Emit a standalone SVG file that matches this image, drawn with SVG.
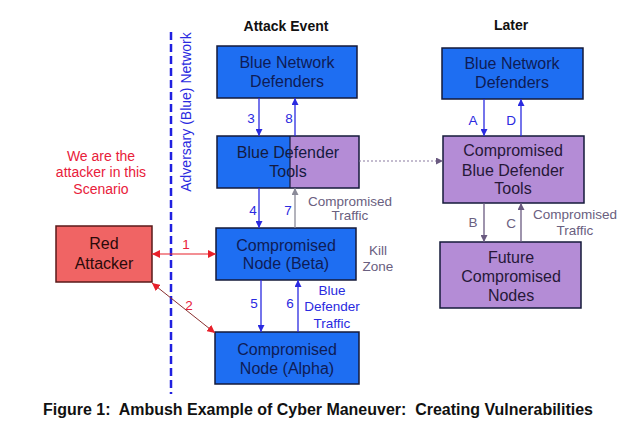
<svg xmlns="http://www.w3.org/2000/svg" width="639" height="424" viewBox="0 0 639 424">
<defs>
<style>
text{font-family:"Liberation Sans",Arial,sans-serif}
.box{stroke:#141a3a;stroke-width:1.5}
.blue{fill:#1e6ef2}
.purple{fill:#b48cd6}
.red{fill:#f06464;stroke:#5a1a1a}
.bt{font-size:16px;fill:#0e1c56;text-anchor:middle}
.pt{font-size:16px;fill:#261838;text-anchor:middle}
.title{font-size:14px;font-weight:bold;fill:#111;text-anchor:middle}
.lbl{font-size:13.5px;text-anchor:middle}
.lb{fill:#2a2ae0}
.lg{fill:#6a6080}
.lr{fill:#e8203a}
.cb{stroke:#2a2ae0;stroke-width:1.3;fill:none}
.cg{stroke:#8a8a98;stroke-width:1.3;fill:none}
.cp{stroke:#6a5a80;stroke-width:1.3;fill:none}
</style>
<marker id="mb" viewBox="0 0 10 10" refX="10" refY="5" markerWidth="7" markerHeight="7" markerUnits="userSpaceOnUse" orient="auto"><path d="M0,0 L10,5 L0,10 z" fill="#2a2ae0"/></marker>
<marker id="mg" viewBox="0 0 10 10" refX="10" refY="5" markerWidth="7" markerHeight="7" markerUnits="userSpaceOnUse" orient="auto"><path d="M0,0 L10,5 L0,10 z" fill="#8a8a98"/></marker>
<marker id="mp" viewBox="0 0 10 10" refX="10" refY="5" markerWidth="7" markerHeight="7" markerUnits="userSpaceOnUse" orient="auto"><path d="M0,0 L10,5 L0,10 z" fill="#6a5a80"/></marker>
<marker id="mr" viewBox="0 0 10 10" refX="10" refY="5" markerWidth="8" markerHeight="8" markerUnits="userSpaceOnUse" orient="auto-start-reverse"><path d="M0,0 L10,5 L0,10 z" fill="#e8202a"/></marker>
</defs>
<rect width="639" height="424" fill="#fff"/>

<text class="title" x="286" y="31">Attack Event</text>
<text class="title" x="511" y="30">Later</text>

<line x1="171" y1="32" x2="171" y2="394" stroke="#2020e0" stroke-width="2.5" stroke-dasharray="8,4"/>
<text x="0" y="0" transform="translate(191,112) rotate(-90)" font-size="14" fill="#2a2ae0" text-anchor="middle">Adversary (Blue) Network</text>

<g id="note">
<text class="lr" x="101" y="161" font-size="14" text-anchor="middle">We are the</text>
<text class="lr" x="101" y="177" font-size="14" text-anchor="middle">attacker in this</text>
<text class="lr" x="101" y="194" font-size="14" text-anchor="middle">Scenario</text>
</g>

<g id="red-attacker">
<rect class="box red" x="56" y="226" width="96" height="56"/>
<text class="bt" x="104" y="249" style="fill:#2a0a0a">Red</text>
<text class="bt" x="104" y="269" style="fill:#2a0a0a">Attacker</text>
</g>

<g id="blue-network-defenders">
<rect class="box blue" x="217" y="46" width="140" height="52"/>
<text class="bt" x="287" y="68">Blue Network</text>
<text class="bt" x="287" y="87">Defenders</text>
</g>

<g id="blue-defender-tools">
<rect class="blue" x="217" y="136" width="73" height="52"/>
<rect class="purple" x="290" y="136" width="69" height="52"/>
<line x1="290" y1="136" x2="290" y2="188" stroke="#141a3a" stroke-width="1.2"/>
<rect x="217" y="136" width="142" height="52" fill="none" stroke="#141a3a" stroke-width="1.5"/>
<text class="bt" x="288" y="158" style="fill:#141a40">Blue Defender</text>
<text class="bt" x="288" y="177" style="fill:#141a40">Tools</text>
</g>

<g id="node-beta">
<rect class="box blue" x="216" y="228" width="140" height="52"/>
<text class="bt" x="286" y="251">Compromised</text>
<text class="bt" x="286" y="269">Node (Beta)</text>
</g>

<g id="node-alpha">
<rect class="box blue" x="215" y="332" width="144" height="52"/>
<text class="bt" x="287" y="355">Compromised</text>
<text class="bt" x="287" y="374">Node (Alpha)</text>
</g>

<g id="later-blue-network-defenders">
<rect class="box blue" x="442" y="48" width="141" height="51"/>
<text class="bt" x="512" y="69">Blue Network</text>
<text class="bt" x="512" y="88">Defenders</text>
</g>

<g id="compromised-blue-defender-tools">
<rect class="box purple" x="443" y="136" width="141" height="67"/>
<text class="pt" x="513" y="156">Compromised</text>
<text class="pt" x="513" y="176">Blue Defender</text>
<text class="pt" x="513" y="194">Tools</text>
</g>

<g id="future-compromised-nodes">
<rect class="box purple" x="440" y="242" width="141" height="66"/>
<text class="pt" x="511" y="263">Future</text>
<text class="pt" x="511" y="282">Compromised</text>
<text class="pt" x="511" y="301">Nodes</text>
</g>

<g id="connectors">
<line class="cb" x1="259" y1="98" x2="259" y2="136" marker-end="url(#mb)"/>
<line class="cb" x1="295" y1="136" x2="295" y2="98" marker-end="url(#mb)"/>
<line class="cb" x1="259" y1="188" x2="259" y2="228" marker-end="url(#mb)"/>
<line class="cg" x1="295" y1="228" x2="295" y2="188" marker-end="url(#mg)"/>
<line class="cb" x1="261" y1="280" x2="261" y2="332" marker-end="url(#mb)"/>
<line class="cb" x1="298" y1="332" x2="298" y2="280" marker-end="url(#mb)"/>
<line x1="152" y1="254" x2="216" y2="254" stroke="#e8202a" stroke-width="1.2" marker-start="url(#mr)" marker-end="url(#mr)"/>
<line x1="152" y1="283" x2="215" y2="333" stroke="#8a3030" stroke-width="1" marker-start="url(#mr)" marker-end="url(#mr)"/>
<line x1="359" y1="161" x2="443" y2="161" stroke="#8a7aa0" stroke-width="1.1" stroke-dasharray="2,2" marker-end="url(#mp)"/>
<line class="cb" x1="484" y1="99" x2="484" y2="136" marker-end="url(#mb)"/>
<line class="cb" x1="521" y1="136" x2="521" y2="99" marker-end="url(#mb)"/>
<line class="cp" x1="484" y1="203" x2="484" y2="242" marker-end="url(#mp)"/>
<line class="cp" x1="521" y1="242" x2="521" y2="203" marker-end="url(#mp)"/>

<text class="lbl lb" x="251" y="123">3</text>
<text class="lbl lb" x="289" y="123">8</text>
<text class="lbl lb" x="253" y="215">4</text>
<text class="lbl lb" x="288" y="215">7</text>
<text class="lbl lb" x="254" y="308">5</text>
<text class="lbl lb" x="290" y="308">6</text>
<text class="lbl lr" x="186" y="249">1</text>
<text class="lbl lr" x="189" y="310">2</text>
<text class="lbl lb" x="473" y="125">A</text>
<text class="lbl lb" x="511" y="125">D</text>
<text class="lbl lg" x="473" y="227">B</text>
<text class="lbl lg" x="511" y="228">C</text>
<text class="lbl lg" x="350" y="206">Compromised</text>
<text class="lbl lg" x="350" y="220">Traffic</text>
<text class="lbl lg" x="575" y="219">Compromised</text>
<text class="lbl lg" x="575" y="235">Traffic</text>
<text class="lbl lb" x="332" y="295">Blue</text>
<text class="lbl lb" x="332" y="311">Defender</text>
<text class="lbl lb" x="332" y="328">Traffic</text>
<text class="lbl lg" x="378" y="255">Kill</text>
<text class="lbl lg" x="378" y="271">Zone</text>
</g>

<text x="43" y="415" font-size="16" font-weight="bold" fill="#111" textLength="550" lengthAdjust="spacingAndGlyphs" xml:space="preserve">Figure 1:  Ambush Example of Cyber Maneuver:  Creating Vulnerabilities</text>
</svg>
